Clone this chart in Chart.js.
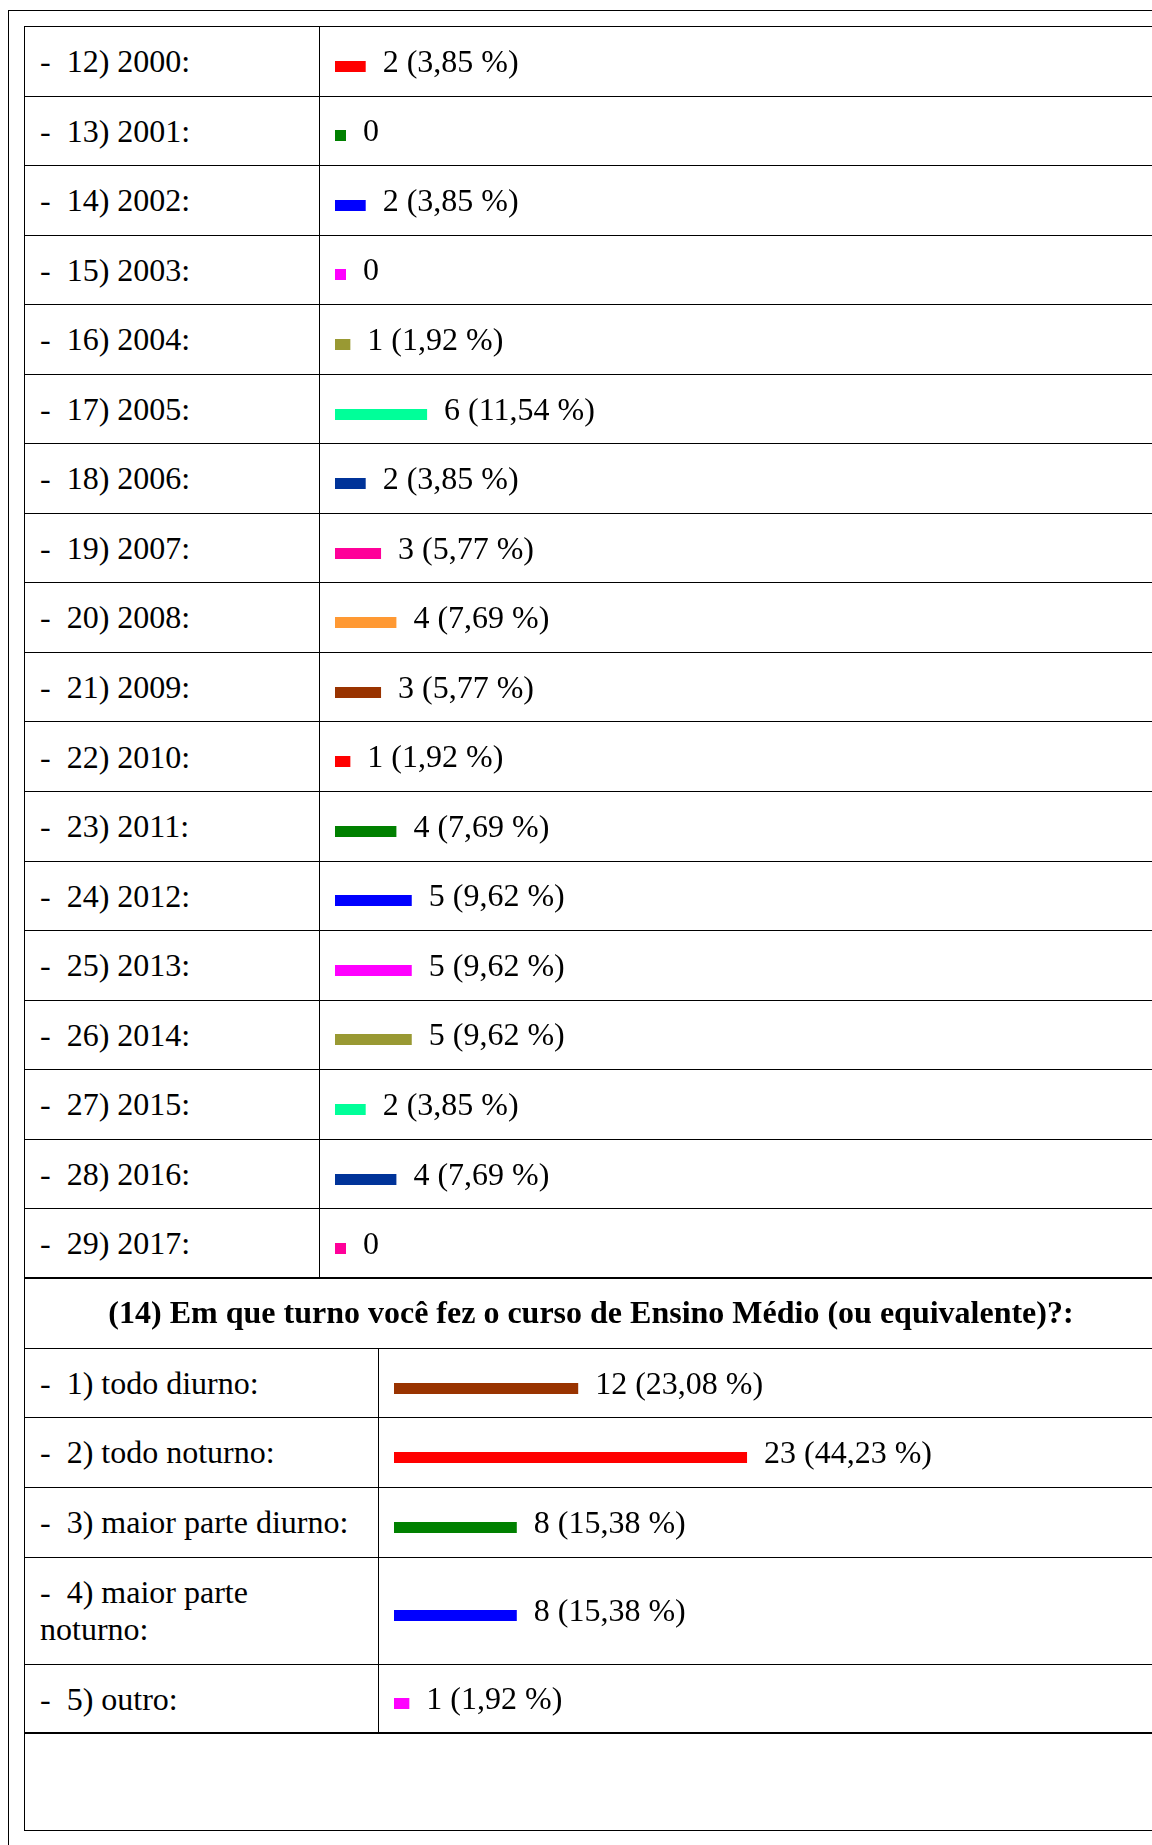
<!DOCTYPE html>
<html lang="pt">
<head>
<meta charset="utf-8">
<title>Questionário – ano de conclusão e turno do Ensino Médio</title>
<script src="https://cdn.jsdelivr.net/npm/chart.js@4.4.1/dist/chart.umd.min.js"></script>
<style>
  html, body { margin: 0; padding: 0; background: #fff; }
  body {
    width: 1152px; height: 1845px; overflow: hidden; position: relative;
    font-family: "Liberation Serif", "Times New Roman", serif; color: #000;
  }
  .ln { position: absolute; background: #000; }
  .lbl {
    position: absolute; font-size: 32px; line-height: 37.5px; white-space: pre;
    display: flex; flex-direction: column; justify-content: center;
  }
  .title {
    position: absolute; font-size: 32px; line-height: 37.5px; font-weight: bold;
    white-space: pre; display: flex; align-items: center; justify-content: center;
  }
  canvas { position: absolute; }
</style>
</head>
<body>
<script>
// Year of completion (items 12 to 29)
const yearLabels = [
  '12) 2000:', '13) 2001:', '14) 2002:', '15) 2003:', '16) 2004:', '17) 2005:',
  '18) 2006:', '19) 2007:', '20) 2008:', '21) 2009:', '22) 2010:', '23) 2011:',
  '24) 2012:', '25) 2013:', '26) 2014:', '27) 2015:', '28) 2016:', '29) 2017:'
];
const yearCounts = [2, 0, 2, 0, 1, 6, 2, 3, 4, 3, 1, 4, 5, 5, 5, 2, 4, 0];
const yearPercents = [3.85, 0, 3.85, 0, 1.92, 11.54, 3.85, 5.77, 7.69, 5.77, 1.92, 7.69, 9.62, 9.62, 9.62, 3.85, 7.69, 0];
const yearColors = [
  '#ff0000', '#008000', '#0000ff', '#ff00ff', '#999933', '#00ff99',
  '#003399', '#ff0099', '#ff9933', '#993300', '#ff0000', '#008000',
  '#0000ff', '#ff00ff', '#999933', '#00ff99', '#003399', '#ff0099'
];

// Question 14: shift of secondary school
const shiftTitle = '(14) Em que turno você fez o curso de Ensino Médio (ou equivalente)?:';
const shiftLabels = ['1) todo diurno:', '2) todo noturno:', '3) maior parte diurno:', ['4) maior parte', 'noturno:'], '5) outro:'];
const shiftCounts = [12, 23, 8, 8, 1];
const shiftPercents = [23.08, 44.23, 15.38, 15.38, 1.92];
const shiftColors = ['#993300', '#ff0000', '#008000', '#0000ff', '#ff00ff'];

// ---- layout ----
const VIEW_W = 1152;
const FRAME_X = 8, FRAME_Y = 10;
const TABLE_L = 24, TABLE_R = 1158, TABLE_TOP = 26, TABLE_BOTTOM = 1830;
const ROW_H = 69.55;
const EXTRA_LINE_H = 37.5;
const TITLE_H = 70;
const LABEL_X = 40;
const LABEL_DROP = 1;
const DASH_GAP = 16;
const YEAR_DIVIDER_X = 319;
const SHIFT_DIVIDER_X = 378;
const BAR_INSET = 16;
const BAR_THICKNESS = 11;
const BAR_DROP = 5.5;
const PX_PER_UNIT = 15.35;
const VALUE_GAP = 17;

function addLine(x, y, w, h) {
  const d = document.createElement('div');
  d.className = 'ln';
  d.style.left = x + 'px'; d.style.top = y + 'px';
  d.style.width = w + 'px'; d.style.height = h + 'px';
  document.body.appendChild(d);
}

function addLabel(lines, top, height) {
  const d = document.createElement('div');
  d.className = 'lbl';
  d.style.left = LABEL_X + 'px';
  d.style.top = (top + LABEL_DROP) + 'px';
  d.style.height = height + 'px';
  lines.forEach((t, k) => {
    const row = document.createElement('div');
    if (k === 0) {
      const dash = document.createElement('span');
      dash.textContent = '-';
      const txt = document.createElement('span');
      txt.style.marginLeft = DASH_GAP + 'px';
      txt.textContent = t;
      row.append(dash, txt);
    } else {
      row.textContent = t;
    }
    d.appendChild(row);
  });
  document.body.appendChild(d);
}

// rows of one block of the table; returns their geometry
function buildRows(y0, labels, dividerX) {
  const rows = [];
  let y = y0;
  labels.forEach(l => {
    const lines = Array.isArray(l) ? l : [l];
    const h = ROW_H + (lines.length - 1) * EXTRA_LINE_H;
    rows.push({ top: y, h, lines });
    y += h;
  });
  rows.forEach(r => {
    addLine(TABLE_L, Math.round(r.top), VIEW_W - TABLE_L, 1);
    addLabel(r.lines, r.top, r.h);
  });
  addLine(dividerX, Math.round(y0), 1, Math.round(y) - Math.round(y0));
  return { rows, bottom: y };
}

// category scale whose bands follow the table rows
const bandCenters = new Map();
class RowBandScale extends Chart.CategoryScale {
  static id = 'rowband';
  static defaults = Chart.CategoryScale.defaults;
  getPixelForValue(value, index) {
    if (typeof value !== 'number') value = this.parse(value);
    const c = bandCenters.get(this.chart.canvas);
    if (value === null || !c || c[value] === undefined) return super.getPixelForValue(value, index);
    return this.top + c[value];
  }
}
Chart.register(RowBandScale);

// count + percentage written after each bar
const valueLabels = {
  id: 'valueLabels',
  afterDatasetsDraw(chart) {
    const { ctx } = chart;
    const ds = chart.data.datasets[0];
    const meta = chart.getDatasetMeta(0);
    ctx.save();
    ctx.font = '32px "Liberation Serif", "Times New Roman", serif';
    ctx.fillStyle = '#000';
    ctx.textAlign = 'left';
    ctx.textBaseline = 'alphabetic';
    meta.data.forEach((bar, i) => {
      const v = ds.data[i];
      const text = v === 0 ? '0' : v + ' (' + ds.percents[i].toFixed(2).replace('.', ',') + ' %)';
      const p = bar.getProps(['x', 'y', 'height'], true);
      ctx.fillText(text, p.x + VALUE_GAP, p.y + p.height / 2);
    });
    ctx.restore();
  }
};

function drawBars(block, y0, dividerX, labels, counts, percents, colors) {
  const top = Math.round(y0);
  const left = dividerX + BAR_INSET;
  const w = VIEW_W - left;
  const h = Math.round(block.bottom) - top;
  const canvas = document.createElement('canvas');
  canvas.width = w; canvas.height = h;
  canvas.style.left = left + 'px'; canvas.style.top = top + 'px';
  canvas.style.width = w + 'px'; canvas.style.height = h + 'px';
  document.body.appendChild(canvas);
  bandCenters.set(canvas, block.rows.map(r => {
    const c = r.top - top + r.h / 2 + BAR_DROP;
    return Math.round(c - BAR_THICKNESS / 2) + BAR_THICKNESS / 2;
  }));
  new Chart(canvas, {
    type: 'bar',
    data: {
      labels,
      datasets: [{
        data: counts,
        percents,
        backgroundColor: colors,
        borderWidth: 0,
        barThickness: BAR_THICKNESS,
        minBarLength: 11,
        inflateAmount: 0
      }]
    },
    options: {
      indexAxis: 'y',
      responsive: false,
      maintainAspectRatio: false,
      animation: false,
      devicePixelRatio: 1,
      events: [],
      layout: { padding: 0 },
      scales: {
        x: { type: 'linear', min: 0, max: w / PX_PER_UNIT, display: false },
        y: { type: 'rowband', display: false }
      },
      plugins: { legend: { display: false }, tooltip: { enabled: false } }
    },
    plugins: [valueLabels]
  });
}

// outer frame
addLine(FRAME_X, FRAME_Y, VIEW_W - FRAME_X, 1);
addLine(FRAME_X, FRAME_Y, 1, 1845 - FRAME_Y);

// year block
const yearBlock = buildRows(TABLE_TOP, yearLabels, YEAR_DIVIDER_X);
drawBars(yearBlock, TABLE_TOP, YEAR_DIVIDER_X, yearLabels, yearCounts, yearPercents, yearColors);
addLine(TABLE_L, Math.round(yearBlock.bottom) - 1, VIEW_W - TABLE_L, 2);

// question title row
const titleTop = yearBlock.bottom;
const title = document.createElement('div');
title.className = 'title';
title.style.left = TABLE_L + 'px';
title.style.width = (TABLE_R - TABLE_L) + 'px';
title.style.top = titleTop + 'px';
title.style.height = TITLE_H + 'px';
title.textContent = shiftTitle;
document.body.appendChild(title);

// shift block
const shiftTop = titleTop + TITLE_H;
const shiftBlock = buildRows(shiftTop, shiftLabels, SHIFT_DIVIDER_X);
drawBars(shiftBlock, shiftTop, SHIFT_DIVIDER_X, shiftLabels, shiftCounts, shiftPercents, shiftColors);
addLine(TABLE_L, Math.round(shiftBlock.bottom) - 1, VIEW_W - TABLE_L, 2);

// empty trailing row and table borders
addLine(TABLE_L, TABLE_BOTTOM, VIEW_W - TABLE_L, 1);
addLine(TABLE_L, TABLE_TOP, 1, TABLE_BOTTOM - TABLE_TOP + 1);
</script>
</body>
</html>
